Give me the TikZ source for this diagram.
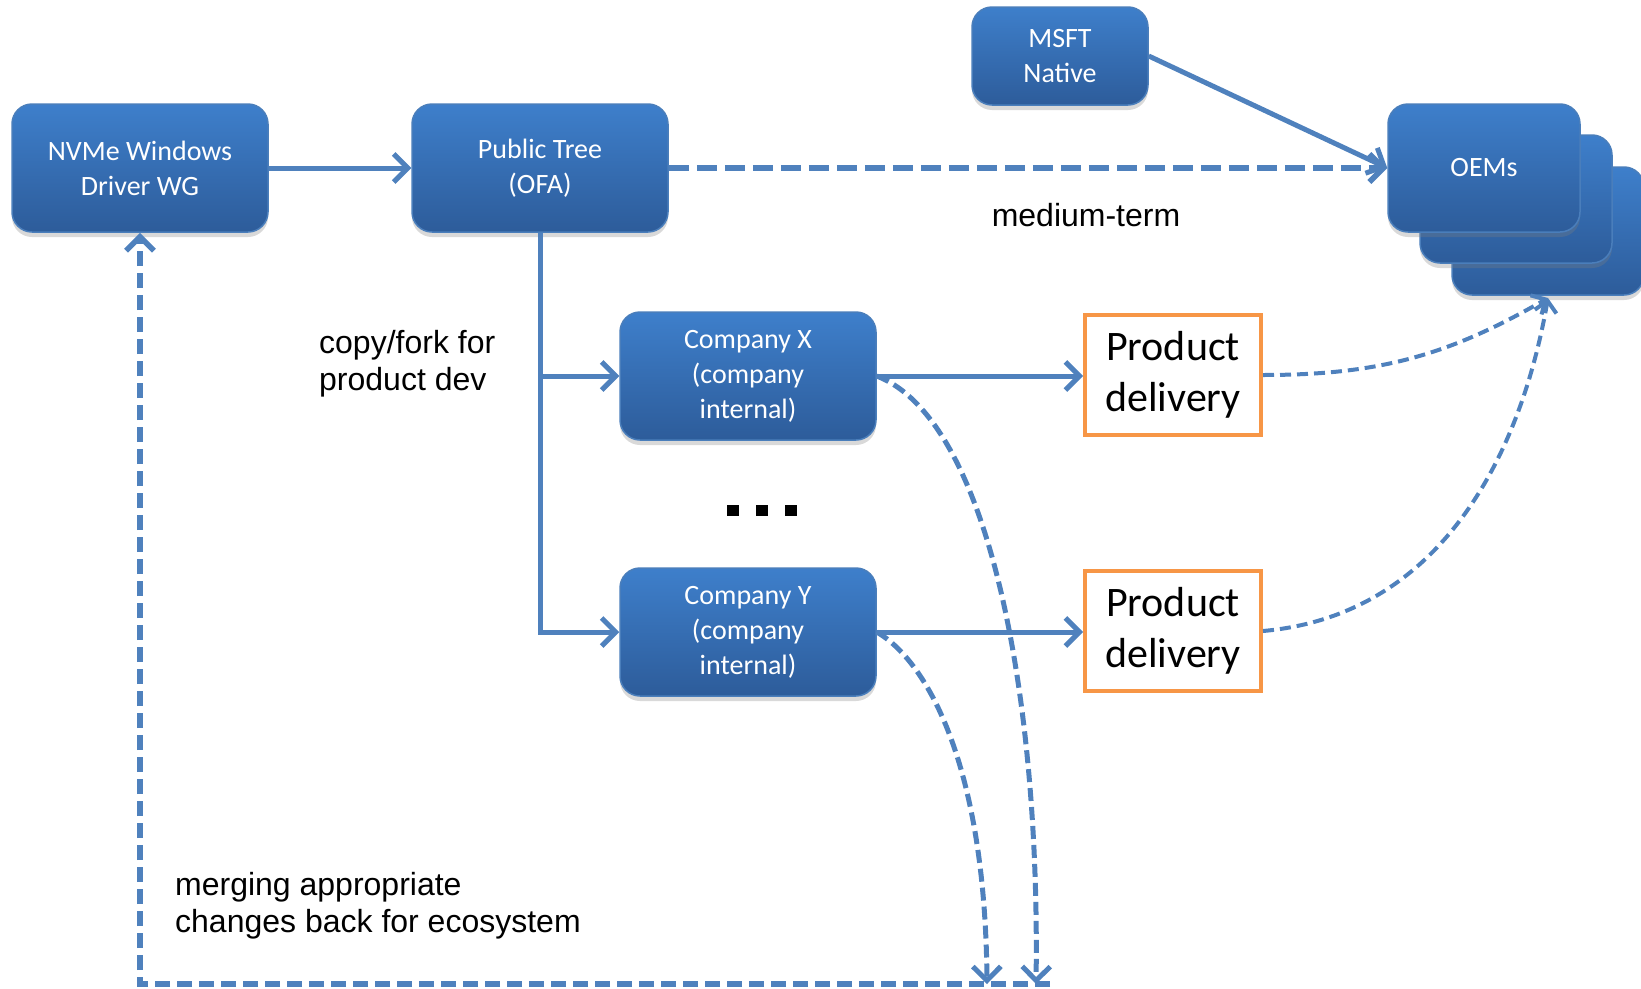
\documentclass[tikz,border=0pt]{standalone}
\usepackage{fontspec}
\setmainfont{Liberation Sans}
\newfontfamily\boxfont{Carlito}
\usetikzlibrary{arrows.meta,shadows}
\definecolor{boxtop}{HTML}{3E7FCB}
\definecolor{boxbot}{HTML}{2D5C9A}
\definecolor{boxedge}{HTML}{4A7EBB}
\definecolor{link}{HTML}{4F81BD}
\definecolor{pdedge}{HTML}{F79646}

\begin{document}
\begin{tikzpicture}[x=1pt,y=-1pt,
 blk/.style={rounded corners=20pt,top color=boxtop,bottom color=boxbot,draw=boxedge,line width=1.5pt,text=white,align=center,
  font=\boxfont\fontsize{28}{35}\selectfont,minimum width=256pt,minimum height=128pt,
  drop shadow={opacity=.3,shadow xshift=0pt,shadow yshift=-5pt}},
 pdbox/.style={draw=pdedge,line width=4pt,fill=white,align=center,font=\boxfont\fontsize{42}{51}\selectfont,minimum width=176pt,minimum height=120pt},
 lbl/.style={align=left,inner sep=0pt,font=\fontsize{32}{37}\selectfont},
 conn/.style={link,line width=5pt,-{Straight Barb[length=14pt,width=28pt]}},
 dline/.style={conn,line width=5.5pt,dash pattern=on 20pt off 8pt},
 retline/.style={conn,line width=5.5pt,dash pattern=on 15pt off 7pt},
 bowline/.style={conn,dash pattern=on 13pt off 6pt},
 thinline/.style={link,line width=4pt,dash pattern=on 11pt off 6pt,-{Straight Barb[length=11pt,width=22pt]}}]
 \useasboundingbox (0,0) rectangle (1641,988);
 \node[blk] (nvme) at (140,168) {NVMe Windows\\Driver WG};
 \node[blk] (pub) at (540,168) {Public Tree\\(OFA)};
 \node[blk,minimum width=176pt,minimum height=98pt] (msft) at (1060,56) {MSFT\\Native};
 \node[blk,minimum width=192pt] (oem3) at (1548,231) {};
 \node[blk,minimum width=192pt] (oem2) at (1516,199) {};
 \node[blk,minimum width=192pt] (oems) at (1484,168) {OEMs};
 \node[blk] (cx) at (748,376) {Company X\\(company\\internal)};
 \node[blk] (cy) at (748,632) {Company Y\\(company\\internal)};
 \node[pdbox] (pd1) at (1173,375) {Product\\delivery};
 \node[pdbox] (pd2) at (1173,631) {Product\\delivery};
 \node[lbl,anchor=west] (fork) at (319,364) {copy/fork for\\product dev};
 \node[lbl] (mid) at (1086,215) {medium-term};
 \node[lbl,anchor=west] (merge) at (175,906) {merging appropriate\\changes back for ecosystem};
 \foreach \x in {733,762,791} \fill (\x-6,505) rectangle ++(12,11);
 \coordinate (endx) at (1036,984);\coordinate (endy) at (987,984);\coordinate (bend) at (1050,984);
 \coordinate (oemin) at (1548,298);
 \draw[conn] (nvme) -- (pub);
 \draw[dline] (pub) -- (oems);
 \draw[conn] (msft.east) -- (oems.west);
 \draw[conn] (pub.south) |- (cy.west);
 \draw[conn] (pub.south |- cx.west) -- (cx.west);
 \draw[conn] (cx.east) -- (cx.east -| pd1.west);
 \draw[conn] (cy.east) -- (cy.east -| pd2.west);
 \draw[bowline] (cx.east) .. controls (990,420) and (1040,700) .. (endx);
 \draw[bowline] (cy.east) .. controls (925,660) and (985,760) .. (endy);
 \draw[retline] (bend) -| (nvme.south);
 \draw[thinline] (pd1.east) to[out=0,in=-150] (oemin);
 \draw[thinline] (pd2.east) to[out=5,in=-100] (oemin);
\end{tikzpicture}
\end{document}
